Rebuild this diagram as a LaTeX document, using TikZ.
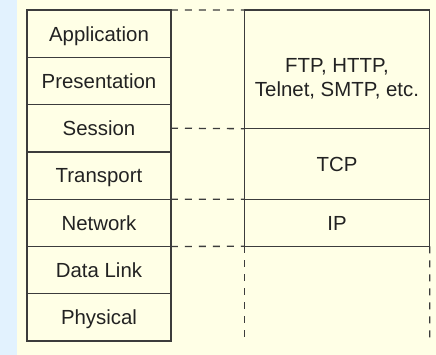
\documentclass[tikz,border=0pt]{standalone}
\usepackage{fontspec}
\setmainfont{Liberation Sans}
\usetikzlibrary{positioning}
\definecolor{stripblue}{HTML}{E2F2FE}
\definecolor{paper}{HTML}{FFFFE6}
\definecolor{linegray}{HTML}{3C3C3C}
\definecolor{textgray}{HTML}{222222}
\tikzset{
  box/.style={draw=linegray, line width=0.65pt, inner sep=0pt, outer sep=0pt,
    text=textgray, font=\fontsize{10.2}{12}\selectfont},
  layer/.style={box, minimum width=72pt, minimum height=23.65pt, text height=7.4pt, text depth=0pt},
  proto/.style={box, minimum width=92.7pt, align=center},
  guide/.style={draw=linegray, line width=0.65pt, dash pattern=on 3.5pt off 3.5pt}
}
\begin{document}
\begin{tikzpicture}
    % Background
    \fill[stripblue] (0,0) rectangle (8.5pt,-177.5pt);
    \fill[paper] (8.5pt,0) rectangle (218pt,-177.5pt);

    % OSI layers
    \node[layer] (app) at (49.5pt,-16.8pt) {Application};
    \node[layer, below=0pt of app] (pres) {Presentation};
    \node[layer, below=0pt of pres] (sess) {Session};
    \node[layer, below=0pt of sess] (trans) {Transport};
    \node[layer, below=0pt of trans] (net) {Network};
    \node[layer, below=0pt of net] (link) {Data Link};
    \node[layer, below=0pt of link] (phys) {Physical};

    % TCP/IP protocols
    \node[proto, minimum height=59.35pt, anchor=north west] (ftp) at (122.15pt,-5pt) {\rule{0pt}{16pt}FTP, HTTP,\\Telnet, SMTP, etc.};
    \node[proto, minimum height=35.3pt, text height=7.4pt, text depth=0pt, below=0pt of ftp] (tcp) {TCP};
    \node[proto, minimum height=23.5pt, text height=7.4pt, text depth=0pt, below=0pt of tcp] (ip) {IP};
    \coordinate (endl) at (122.15pt,-170.8pt);
    \coordinate (endr) at (214.85pt,-170.8pt);

    % Dashed guides
    \draw[guide] (app.north east) -- (ftp.north west);
    \draw[guide] (sess.east) -- (ftp.south west);
    \draw[guide] (trans.south east) -- (tcp.south west);
    \draw[guide] (net.south east) -- (ip.south west);
    \draw[guide] (ip.south west) -- (endl);
    \draw[guide] (ip.south east) -- (endr);
\end{tikzpicture}
\end{document}
